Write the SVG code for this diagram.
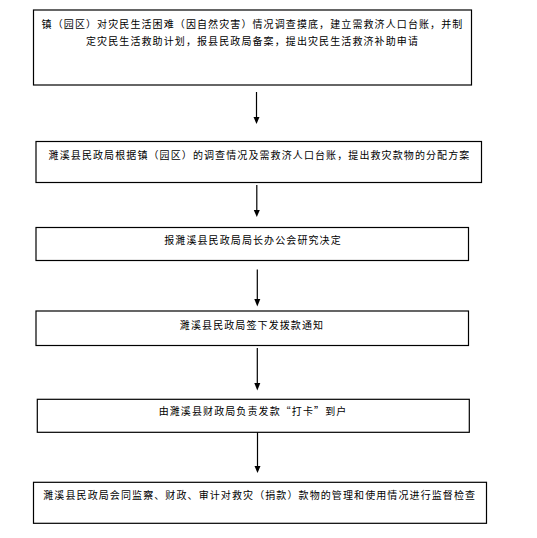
<svg xmlns="http://www.w3.org/2000/svg" width="537" height="538" viewBox="0 0 537 538">
<style>
.box{fill:#fff;stroke:#000;stroke-width:1.2}
.t{font-family:"Noto Sans CJK SC","Liberation Sans",sans-serif;font-size:10px;letter-spacing:1.1px;fill:#000;text-anchor:middle}
.ln{stroke:#000;stroke-width:1.2;fill:none}
.ah{fill:#000}
</style>
<rect width="537" height="538" fill="#fff"/>
<g id="connectors">
<line class="ln" x1="256.5" y1="92" x2="256.5" y2="118"/><polygon class="ah" points="253.5,117 259.5,117 256.5,124"/>
<line class="ln" x1="256.8" y1="185" x2="256.8" y2="211"/><polygon class="ah" points="253.8,210 259.8,210 256.8,217"/>
<line class="ln" x1="257.3" y1="269.5" x2="257.3" y2="300"/><polygon class="ah" points="254.3,299 260.3,299 257.3,306.5"/>
<line class="ln" x1="257.3" y1="348" x2="257.3" y2="384"/><polygon class="ah" points="254.3,383 260.3,383 257.3,390.5"/>
<line class="ln" x1="257.5" y1="432" x2="257.5" y2="467"/><polygon class="ah" points="254.5,466 260.5,466 257.5,473"/>
</g>
<g id="n1"><rect class="box" x="33.5" y="10" width="438" height="75"/>
<text class="t" x="252.5" y="27.5">镇（园区）对灾民生活困难（因自然灾害）情况调查摸底，建立需救济人口台账，并制</text>
<text class="t" x="252.5" y="45">定灾民生活救助计划，报县民政局备案，提出灾民生活救济补助申请</text></g>
<g id="n2"><rect class="box" x="36" y="141.5" width="445.5" height="41"/>
<text class="t" x="259.5" y="158.5">濉溪县民政局根据镇（园区）的调查情况及需救济人口台账，提出救灾款物的分配方案</text></g>
<g id="n3"><rect class="box" x="36" y="227.5" width="432.5" height="33"/>
<text class="t" x="253" y="243.5">报濉溪县民政局局长办公会研究决定</text></g>
<g id="n4"><rect class="box" x="36" y="311" width="432.5" height="34.5"/>
<text class="t" x="252" y="328.5">濉溪县民政局签下发拨款通知</text></g>
<g id="n5"><rect class="box" x="37.3" y="399.3" width="432" height="33"/>
<text class="t" x="253" y="415">由濉溪县财政局负责发款“打卡”到户</text></g>
<g id="n6"><rect class="box" x="33.5" y="482.3" width="453" height="41"/>
<text class="t" x="259.7" y="498.5">濉溪县民政局会同监察、财政、审计对救灾（捐款）款物的管理和使用情况进行监督检查</text></g>
</svg>
